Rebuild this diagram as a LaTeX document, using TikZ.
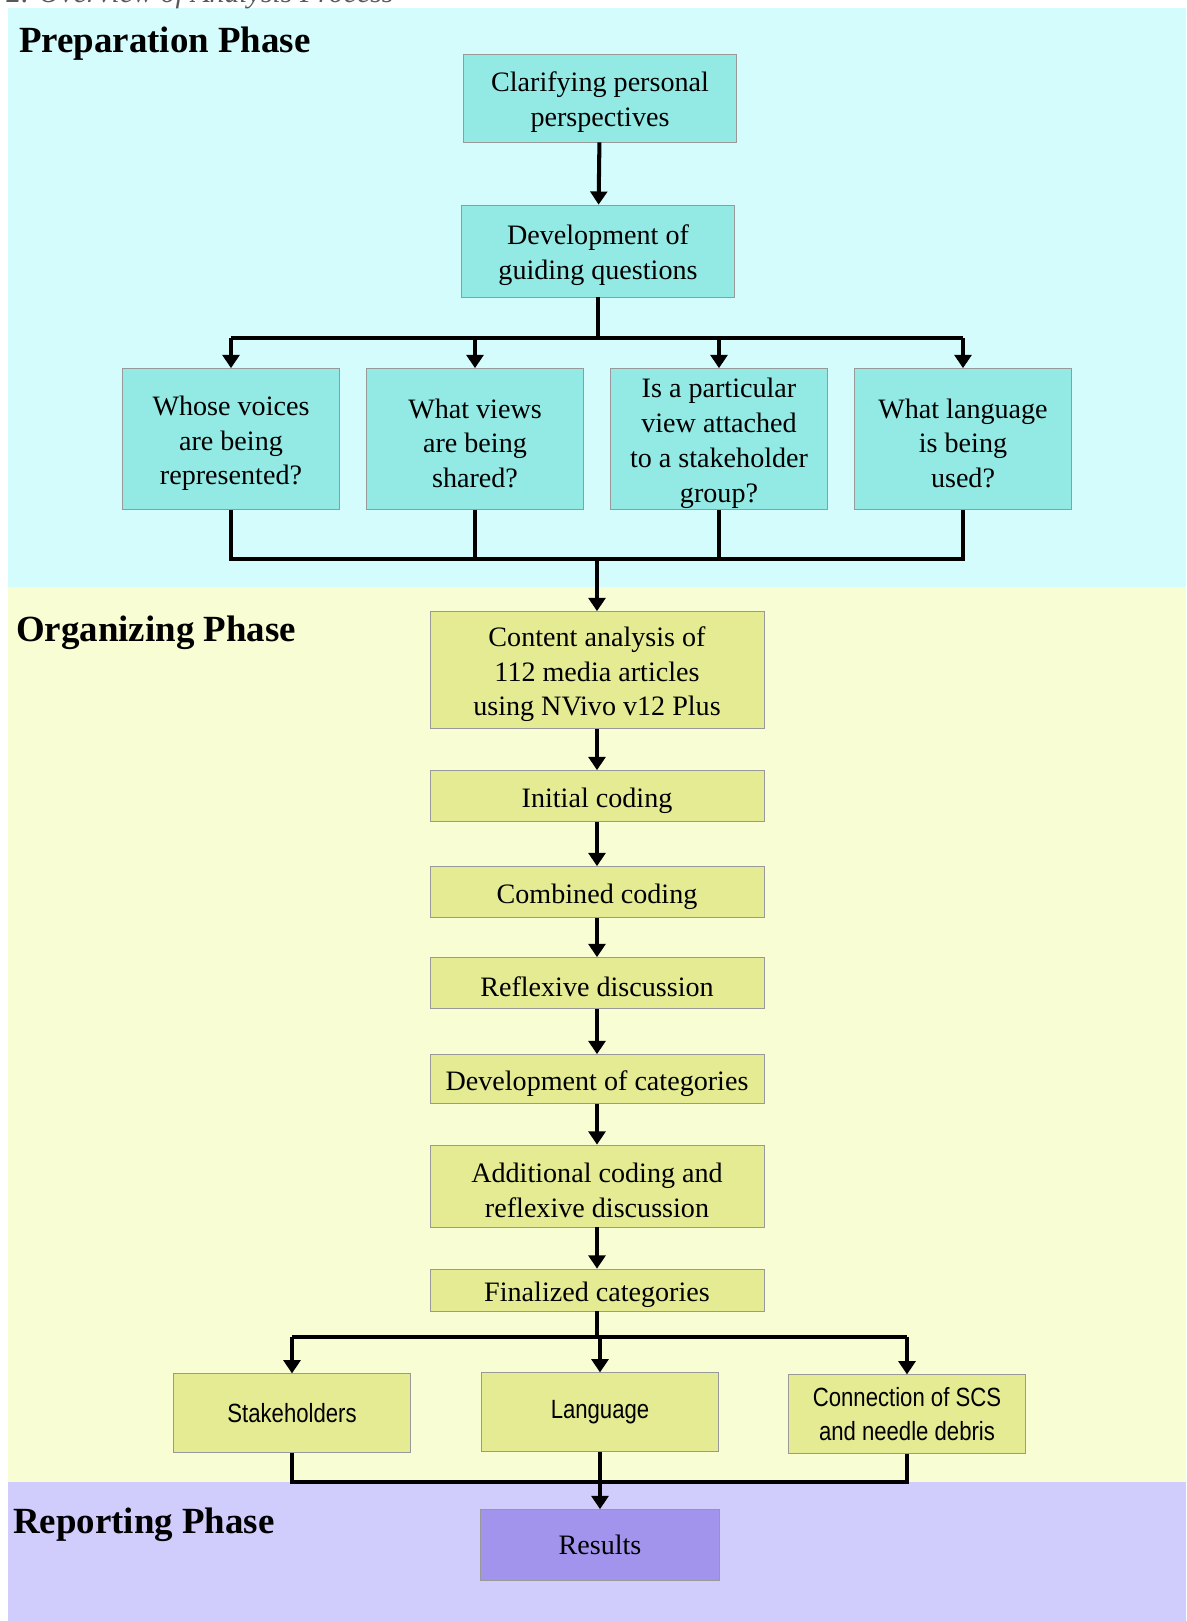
\documentclass[tikz,border=0pt]{standalone}
\usepackage{fontspec}
\setmainfont{Liberation Serif}
\newfontfamily\narrowsans[FakeStretch=0.84]{Liberation Sans}
\usepackage{tikz}
\usetikzlibrary{arrows.meta}

\definecolor{prepbg}{HTML}{D5FCFC}
\definecolor{prepbox}{HTML}{93E9E3}
\definecolor{orgbg}{HTML}{F9FDD3}
\definecolor{orgbox}{HTML}{E4EB93}
\definecolor{repbg}{HTML}{D0CCFC}
\definecolor{repbox}{HTML}{A294EC}

% extra room above the first line of a box
\newcommand{\topgap}{\rule{0pt}{16pt}}

\tikzset{
  phase/.style={anchor=west, font=\fontsize{21}{25}\selectfont\bfseries},
  prepnode/.style={draw=gray!80, fill=prepbox, align=center, inner sep=0pt,
    font=\fontsize{16}{19.8}\selectfont},
  orgnode/.style={draw=gray!80, fill=orgbox, align=center, inner sep=0pt,
    minimum width=6.68cm, font=\fontsize{16}{19.8}\selectfont},
  topicnode/.style={draw=gray!80, fill=orgbox, align=center, inner sep=0pt,
    minimum width=4.74cm, minimum height=1.57cm,
    font=\narrowsans\fontsize{15}{19.5}\selectfont},
  link/.style={line width=2.3pt},
  arr/.style={line width=2.3pt, -{Triangle[width=9.5pt,length=7.5pt]}}
}

\begin{document}
\begin{tikzpicture}[x=0.02cm, y=-0.02cm]
    \useasboundingbox (0,0) rectangle (1186,1621);

    % Phase backgrounds
    \fill[prepbg] (8,8) rectangle (1186,587);
    \fill[orgbg] (8,587) rectangle (1186,1482);
    \fill[repbg] (8,1482) rectangle (1186,1621);

    % Caption, cut off at the top
    \node[anchor=base west, inner sep=0pt, text=gray!70!black,
      font=\fontsize{17}{20}\selectfont\itshape] (caption) at (6,3)
      {2. Overview of Analysis Process};

    % Phase labels
    \node[phase] (prep) at (13,44) {Preparation Phase};
    \node[phase] (org) at (10,633) {Organizing Phase};
    \node[phase] (rep) at (7,1525) {Reporting Phase};

    % Preparation phase
    \node[prepnode, minimum width=5.46cm, minimum height=1.76cm] (clar) at (600,98)
      {\topgap Clarifying personal\\perspectives};
    \node[prepnode, minimum width=5.46cm, minimum height=1.84cm] (guide) at (598,251)
      {\topgap Development of\\guiding questions};
    \node[prepnode, minimum width=4.34cm, minimum height=2.82cm] (voices) at (231,439)
      {\topgap Whose voices\\are being\\represented?};
    \node[prepnode, minimum width=4.34cm, minimum height=2.82cm] (views) at (475,439)
      {\topgap What views\\are being\\shared?};
    \node[prepnode, minimum width=4.34cm, minimum height=2.82cm] (attached) at (719,439)
      {\topgap Is a particular\\view attached\\to a stakeholder\\group?};
    \node[prepnode, minimum width=4.34cm, minimum height=2.82cm] (lang) at (963,439)
      {\topgap What language\\is being\\used?};

    \draw[arr] (clar) -- (guide);

    % Split to the four guiding questions
    \coordinate (split) at (598,338);
    \draw[link] (guide.south) -- (split);
    \draw[link] (voices.north |- split) -- (lang.north |- split);
    \foreach \q in {voices, views, attached, lang}
      \draw[arr] (\q.north |- split) -- (\q.north);

    % Organizing phase
    \node[orgnode, minimum height=2.34cm] (content) at (597,670)
      {\topgap Content analysis of\\112 media articles\\using NVivo v12 Plus};
    \node[orgnode, minimum height=1.02cm] (init) at (597,796) {\topgap Initial coding};
    \node[orgnode, minimum height=1.02cm] (comb) at (597,892) {\topgap Combined coding};
    \node[orgnode, minimum height=1.02cm] (refl) at (597,983) {\topgap Reflexive discussion};
    \node[orgnode, minimum height=0.98cm] (devcat) at (597,1079) {\topgap Development of categories};
    \node[orgnode, minimum height=1.64cm] (addl) at (597,1186)
      {\topgap Additional coding and\\reflexive discussion};
    \node[orgnode, minimum height=0.84cm] (final) at (597,1290) {\topgap Finalized categories};

    % Merge of the guiding questions
    \coordinate (merge) at (597,559);
    \draw[link] (voices.south) -- (voices.south |- merge) -- (lang.south |- merge) -- (lang.south);
    \draw[link] (views.south) -- (views.south |- merge);
    \draw[link] (attached.south) -- (attached.south |- merge);
    \draw[arr] (content.north |- merge) -- (content.north);

    % Coding steps
    \draw[arr] (content) -- (init);
    \draw[arr] (init) -- (comb);
    \draw[arr] (comb) -- (refl);
    \draw[arr] (refl) -- (devcat);
    \draw[arr] (devcat) -- (addl);
    \draw[arr] (addl) -- (final);

    % Categories
    \node[topicnode] (stake) at (292,1413) {Stakeholders};
    \node[topicnode] (language) at (600,1412) {Language};
    \node[topicnode] (conn) at (907,1414) {Connection of SCS\\and needle debris};

    \coordinate (split2) at (597,1337);
    \draw[link] (final.south) -- (split2);
    \draw[link] (stake.north |- split2) -- (conn.north |- split2);
    \foreach \c in {stake, language, conn}
      \draw[arr] (\c.north |- split2) -- (\c.north);

    % Reporting phase
    \node[draw=gray!80, fill=repbox, inner sep=0pt, minimum width=4.78cm,
      minimum height=1.42cm, font=\fontsize{16}{19.8}\selectfont] (res) at (600,1545) {Results};

    \coordinate (merge2) at (600,1482);
    \draw[link] (stake.south) -- (stake.south |- merge2) -- (conn.south |- merge2) -- (conn.south);
    \draw[arr] (language.south) -- (res.north);
\end{tikzpicture}
\end{document}
